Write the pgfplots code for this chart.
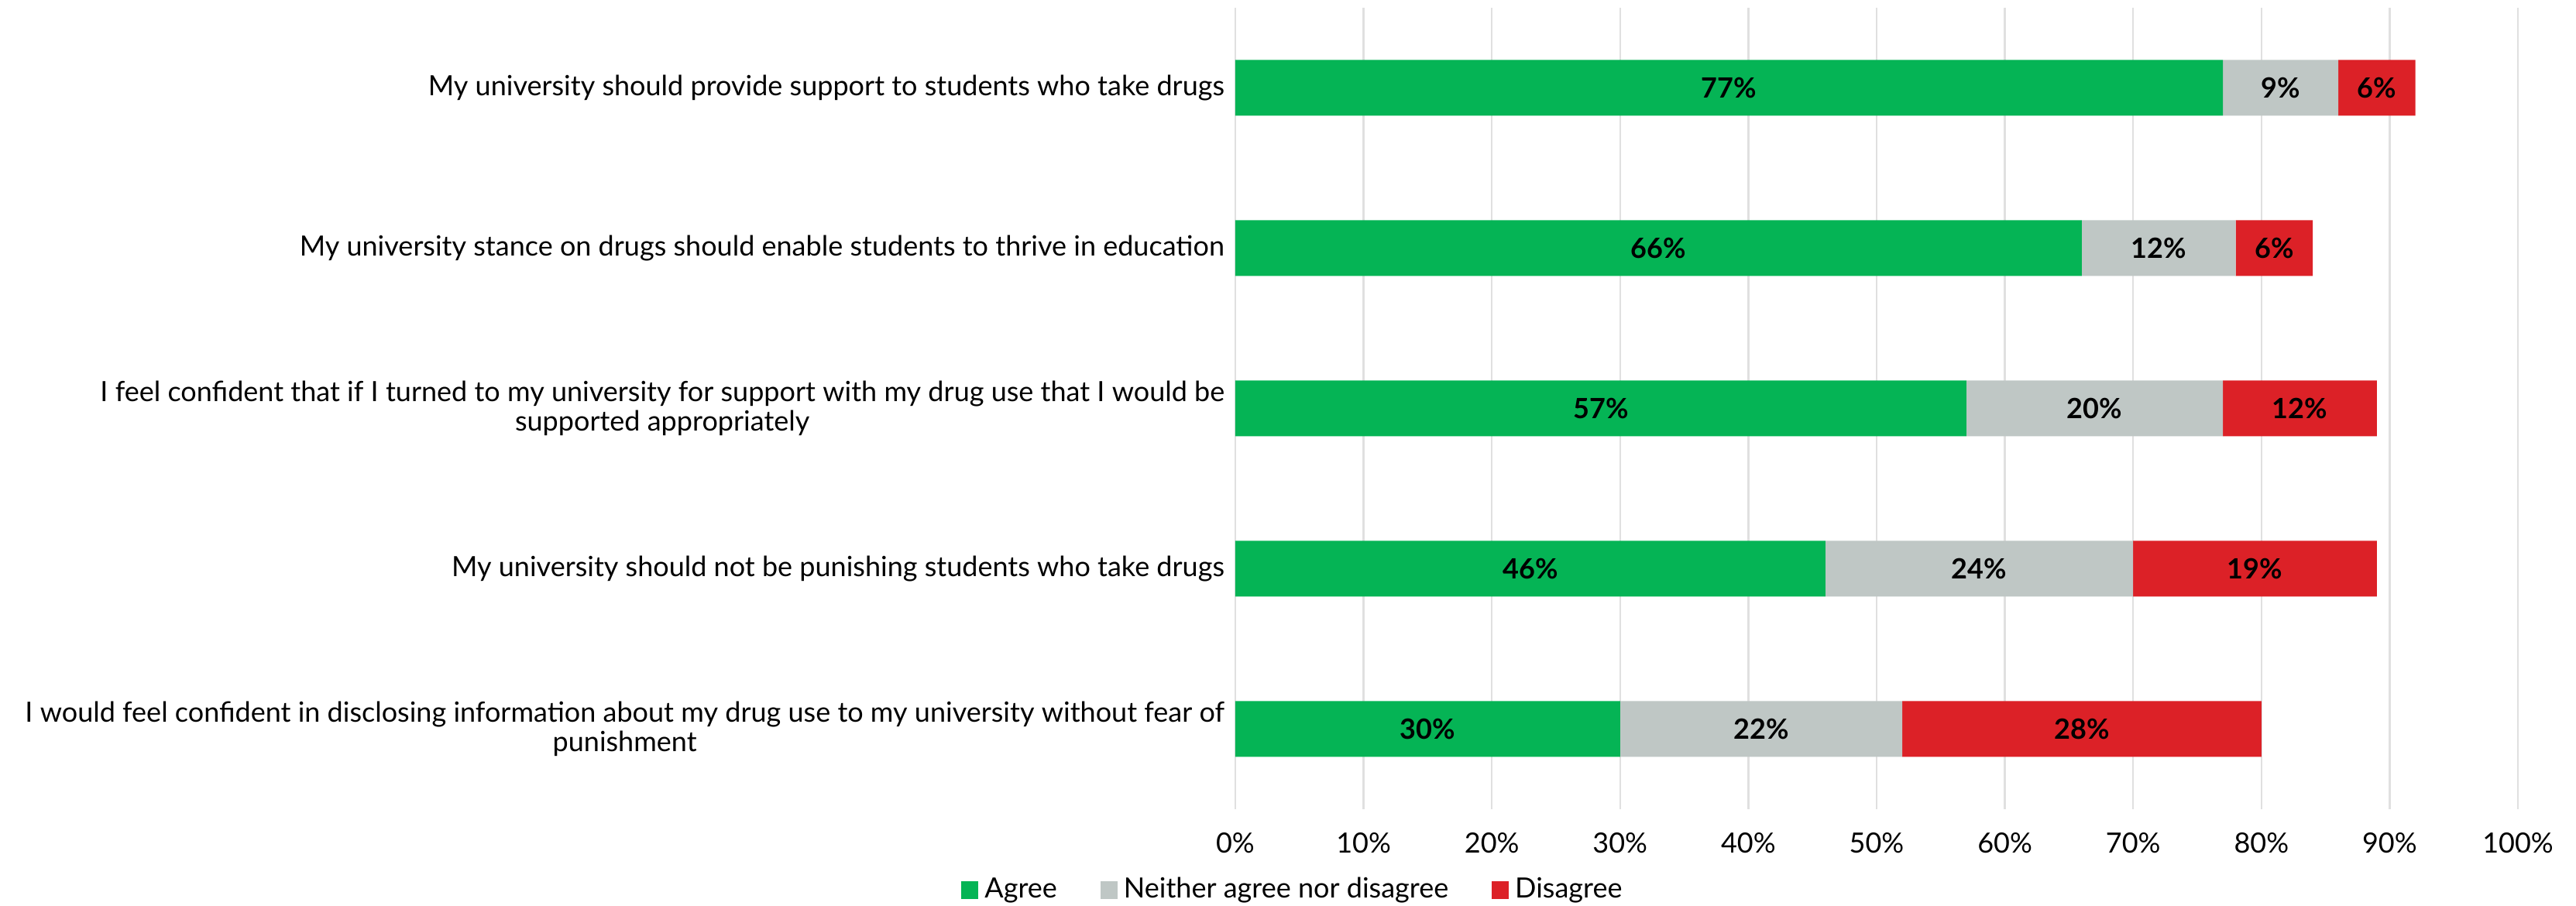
\documentclass[border=0pt]{standalone}
\usepackage{pgfplots}
\usepackage{pgfplotstable}
\pgfplotsset{compat=1.18}
\usepackage{fontspec}
\setmainfont{Lato}
\definecolor{cagree}{RGB}{5,180,85}
\definecolor{cneither}{RGB}{191,199,197}
\definecolor{cdis}{RGB}{220,33,39}
\pgfplotstableread{
cat agree neither disagree
0 30 22 28
1 46 24 19
2 57 20 12
3 66 12 6
4 77 9 6
}\data
\begin{document}
\begin{tikzpicture}
\begin{axis}[
  name=ax,
  scale only axis, width=414pt, height=258.75pt,
  xbar stacked, bar width=18pt,
  xmin=0, xmax=100, ymin=-0.5, ymax=4.5,
  xtick={0,10,...,100},
  xticklabel={\pgfmathprintnumber{\tick}\%},
  /pgf/number format/assume math mode=true,
  ytick={0,1,2,3,4},
  yticklabels={{I would feel confident in disclosing information about my drug use to my university without fear of\\punishment},
    {My university should not be punishing students who take drugs},
    {I feel confident that if I turned to my university for support with my drug use that I would be\\supported appropriately},
    {My university stance on drugs should enable students to thrive in education},
    {My university should provide support to students who take drugs}},
  yticklabel style={align=center, font=\fontsize{9}{9.5}\selectfont},
  xticklabel style={font=\fontsize{9}{10}\selectfont, yshift=-4pt},
  axis line style={draw=none},
  major tick length=0pt,
  xmajorgrids, grid style={black!12, line width=0.6pt},
  clip=false,
  point meta=explicit,
  legend style={at={(0.0465,-0.101)}, anchor=center, draw=none, legend columns=3,
    font=\fontsize{9}{10}\selectfont, /tikz/every even column/.append style={column sep=12pt}},
  legend image code/.code={\fill[#1] (0pt,-2.8pt) rectangle (5.5pt,2.8pt);},
  nodes near coords style={font=\bfseries\fontsize{9}{10}\selectfont, text=black},
  nodes near coords={\pgfmathprintnumber{\pgfplotspointmeta}\%},
  every node near coord/.append style={anchor=center},
]
\addplot[fill=cagree, draw=none]
  table[x=agree, y=cat, meta=agree] {\data};
\addlegendentry{Agree}
\addplot[fill=cneither, draw=none]
  table[x=neither, y=cat, meta=neither] {\data};
\addlegendentry{Neither agree nor disagree}
\addplot[fill=cdis, draw=none]
  table[x=disagree, y=cat, meta=disagree] {\data};
\addlegendentry{Disagree}
\end{axis}
\pgfresetboundingbox
\path ([shift={(-398.75pt,-31.25pt)}]ax.south west) rectangle ([shift={(18.75pt,2.5pt)}]ax.north east);
\end{tikzpicture}
\end{document}
